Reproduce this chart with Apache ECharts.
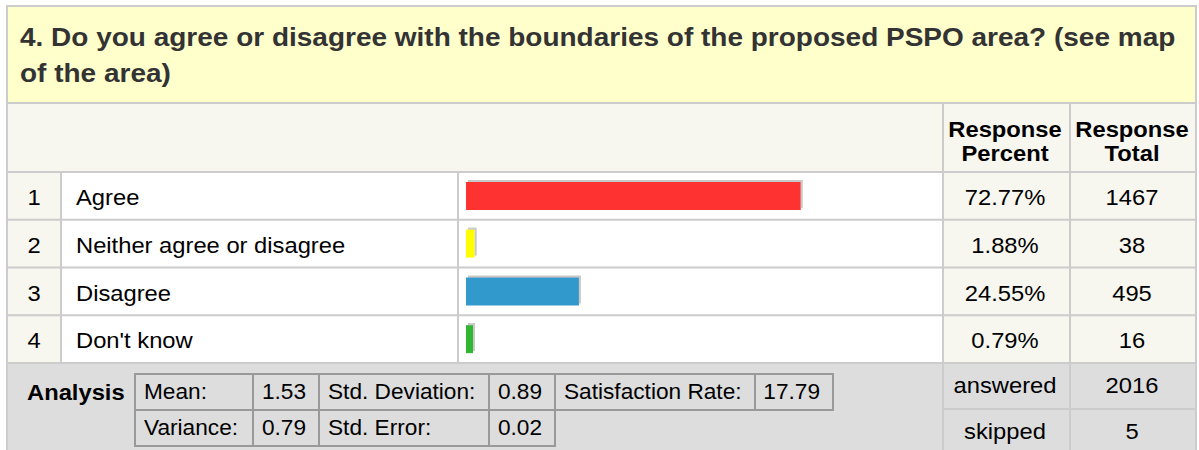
<!DOCTYPE html>
<html>
<head>
<meta charset="utf-8">
<script src="https://cdn.jsdelivr.net/npm/echarts@6/dist/echarts.min.js"></script>
<style>
  html, body { margin: 0; padding: 0; background: #fff; }
  #chart { width: 1199px; height: 450px; }
</style>
</head>
<body>
<div id="chart"></div>
<script>
// question data
const titleLines = ['4. Do you agree or disagree with the boundaries of the proposed PSPO area? (see map', 'of the area)'];
const categories = ['Agree', 'Neither agree or disagree', 'Disagree', "Don't know"];
const percents = [72.77, 1.88, 24.55, 0.79];
const totals = [1467, 38, 495, 16];
const barColors = ['#FF3333', '#FFFF00', '#3399CC', '#33B633'];

// analysis block
const statRow1 = [['Mean:', '1.53'], ['Std. Deviation:', '0.89'], ['Satisfaction Rate:', '17.79']];
const statRow2 = [['Variance:', '0.79'], ['Std. Error:', '0.02']];
const answered = 2016;
const skipped = 5;

const FONT = 'Liberation Sans, Arial, sans-serif';
const FS = 22;
const SX = 1.08;   // source glyphs run a little wider than Liberation
const LINE = '#CCCCCC';

// table layout
const L = 7, R = 1196;
const headTop = 103, rowTop = 172, rowH = 47.75;
const rowBottom = rowTop + rowH * categories.length;
const colNum = 61, colBar = 458, colPct = 943, colTot = 1070;
const barLeft = 466, barWidth = 460;

const chart = echarts.init(document.getElementById('chart'), null, {renderer: 'svg'});

const g = [];
function rect(x, y, w, h, fill) {
    g.push({type: 'rect', z: -10, shape: {x: x, y: y, width: w, height: h}, style: {fill: fill}});
}
function line(x1, y1, x2, y2, color, w) {
    g.push({type: 'line', z: -5, shape: {x1: x1, y1: y1, x2: x2, y2: y2},
        style: {stroke: color || LINE, lineWidth: w || 2}});
}
function text(t, x, y, opts, sx) {
    g.push({type: 'text', z: 10, x: x, y: y, scaleX: sx || SX, style: Object.assign({
        text: t, fill: '#000', fontSize: FS, fontFamily: FONT,
        align: 'left', verticalAlign: 'middle'
    }, opts || {})});
}

chart.setOption({
    animation: false,
    grid: {left: barLeft, top: rowTop, width: barWidth, height: rowBottom - rowTop, containLabel: false},
    xAxis: {type: 'value', min: 0, max: 100, show: false},
    yAxis: {type: 'category', data: categories, inverse: true, show: false},
    series: [{
        type: 'bar',
        barWidth: 28,
        barMinHeight: 7,
        data: percents.map(function (p, i) {
            return {value: p, itemStyle: {color: barColors[i]}};
        }),
        itemStyle: {shadowColor: '#C8C8C8', shadowOffsetX: 2, shadowOffsetY: -2, shadowBlur: 0}
    }]
});

// backgrounds
rect(6, 5, R - 5, headTop - 5, '#FFFFCC');
rect(6, headTop, R - 5, rowTop - headTop, '#F7F7F0');
rect(6, rowTop, colNum - 6, rowBottom - rowTop, '#F7F7F0');
rect(colNum, rowTop, colPct - colNum, rowBottom - rowTop, '#FFFFFF');
rect(colPct, rowTop, R + 1 - colPct, rowBottom - rowTop, '#F7F7F0');
rect(6, rowBottom, R + 1 - 6, 450 - rowBottom, '#DDDDDD');

// grid lines
line(L, 5, L, 450);
line(R, 5, R, 450);
line(L, 6, R, 6);
line(L, headTop, R, headTop);
for (let i = 0; i <= categories.length; i++) {
    line(L, rowTop + i * rowH, R, rowTop + i * rowH);
}
line(colPct, 409, R, 409);
line(colNum, rowTop, colNum, rowBottom);
line(colBar, rowTop, colBar, rowBottom);
line(colPct, headTop, colPct, 450);
line(colTot, headTop, colTot, 450);

// title and headers
text(titleLines[0], 20, 37, {fill: '#333', fontSize: 26, fontWeight: 'bold'}, 1.077);
text(titleLines[1], 20, 73, {fill: '#333', fontSize: 26, fontWeight: 'bold'}, 1.077);
text('Response', 1005, 129, {fontWeight: 'bold', align: 'center'});
text('Percent', 1005, 153, {fontWeight: 'bold', align: 'center'});
text('Response', 1132, 129, {fontWeight: 'bold', align: 'center'});
text('Total', 1132, 153, {fontWeight: 'bold', align: 'center'});

// one line of the table per category, placed on the category axis
categories.forEach(function (c, i) {
    const y = chart.convertToPixel({yAxisIndex: 0}, c) + 1.5;
    text(String(i + 1), 34, y, {align: 'center'});
    text(c, 76, y);
    text(percents[i].toFixed(2) + '%', 1005, y, {align: 'center'});
    text(String(totals[i]), 1132, y, {align: 'center'});
});

// analysis table
text('Analysis', 27, 392, {fontWeight: 'bold'});
const statX = [135, 253, 319, 489, 555, 755, 833];
[[statRow1, 374], [statRow2, 410]].forEach(function (r) {
    const cells = r[0], top = r[1];
    cells.forEach(function (c, i) {
        const x0 = statX[i * 2], x1 = statX[i * 2 + 1], x2 = statX[i * 2 + 2];
        g.push({type: 'rect', z: -4, shape: {x: x0, y: top, width: x1 - x0, height: 36},
            style: {fill: 'none', stroke: '#999', lineWidth: 2}});
        g.push({type: 'rect', z: -4, shape: {x: x1, y: top, width: x2 - x1, height: 36},
            style: {fill: 'none', stroke: '#999', lineWidth: 2}});
        text(c[0], x0 + 9, top + 18, null, 1.03);
        text(c[1], x2 - 13, top + 18, {align: 'right'}, 1.03);
    });
});
text('answered', 1005, 385, {align: 'center'});
text(String(answered), 1132, 385, {align: 'center'});
text('skipped', 1005, 431, {align: 'center'});
text(String(skipped), 1132, 431, {align: 'center'});

chart.setOption({graphic: {elements: g}});
</script>
</body>
</html>
